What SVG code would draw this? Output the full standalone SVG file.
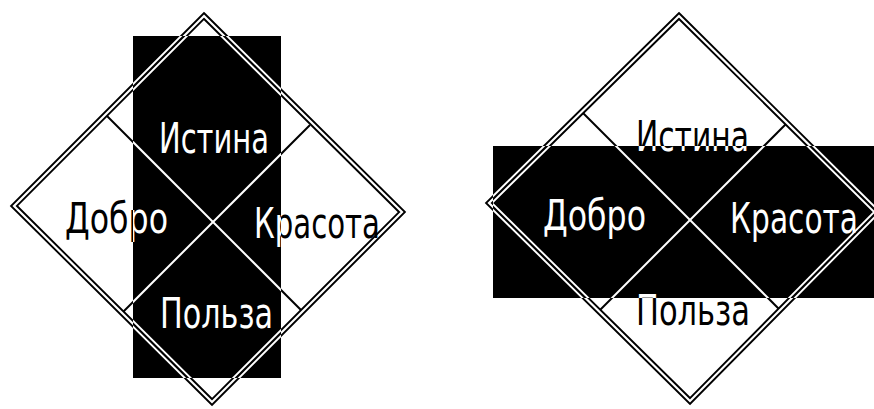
<svg xmlns="http://www.w3.org/2000/svg" xmlns:xlink="http://www.w3.org/1999/xlink" width="874" height="409" viewBox="0 0 874 409">
<style>
.ol-o{fill:none;stroke:var(--fg,#000);stroke-width:6;stroke-linejoin:miter}
.ol-i{fill:none;stroke:var(--bg,#fff);stroke-width:2.2;stroke-linejoin:miter}
.ln{fill:none;stroke:var(--fg,#000);stroke-width:2}
.lbl{font-family:"Liberation Sans Narrow","DejaVu Sans Condensed","Liberation Sans",sans-serif;font-size:42px;fill:var(--fg,#000)}
.blk{fill:#000}
.inv{--fg:#fff;--bg:#000}
</style>
<defs>
<clipPath id="clipL"><rect x="133" y="36" width="148" height="342"/></clipPath>
<clipPath id="clipR"><rect x="493" y="146" width="381" height="152"/></clipPath>
<g id="artL">
  <g id="left-connectors">
    <line class="ln" x1="106" y1="115" x2="302" y2="311"/>
    <line class="ln" x1="310" y1="125" x2="122" y2="313"/>
  </g>
  <g id="left-outline">
    <polygon class="ol-o" points="204,16 402,212 212,402 14,206"/>
    <polygon class="ol-i" points="204,16 402,212 212,402 14,206"/>
  </g>
  <g id="left-istina"><text class="lbl" x="159" y="153" textLength="110" lengthAdjust="spacingAndGlyphs">Истина</text></g>
  <g id="left-dobro"><text class="lbl" x="65" y="233" textLength="103" lengthAdjust="spacingAndGlyphs">Добро</text></g>
  <g id="left-krasota"><text class="lbl" x="254" y="238" textLength="126" lengthAdjust="spacingAndGlyphs">Красота</text></g>
  <g id="left-polza"><text class="lbl" x="160" y="328" textLength="113" lengthAdjust="spacingAndGlyphs">Польза</text></g>
</g>
<g id="artR">
  <g id="right-connectors">
    <line class="ln" x1="582" y1="112" x2="780" y2="310"/>
    <line class="ln" x1="787" y1="123" x2="599" y2="311"/>
  </g>
  <g id="right-outline">
    <polygon class="ol-o" points="679,16 877,212 690,401 489,203"/>
    <polygon class="ol-i" points="679,16 877,212 690,401 489,203"/>
  </g>
  <g id="right-istina"><text class="lbl" x="636" y="151" textLength="113" lengthAdjust="spacingAndGlyphs">Истина</text></g>
  <g id="right-dobro"><text class="lbl" x="543" y="230" textLength="103" lengthAdjust="spacingAndGlyphs">Добро</text></g>
  <g id="right-krasota"><text class="lbl" x="730" y="233" textLength="128" lengthAdjust="spacingAndGlyphs">Красота</text></g>
  <g id="right-polza"><text class="lbl" x="636" y="325" textLength="114" lengthAdjust="spacingAndGlyphs">Польза</text></g>
</g>
</defs>
<rect x="0" y="0" width="874" height="409" fill="#fff"/>
<g id="left-figure">
  <use href="#artL" xlink:href="#artL"/>
  <rect class="blk" x="133" y="36" width="148" height="342"/>
  <g class="inv" clip-path="url(#clipL)"><use href="#artL" xlink:href="#artL"/></g>
</g>
<g id="right-figure">
  <use href="#artR" xlink:href="#artR"/>
  <rect class="blk" x="493" y="146" width="381" height="152"/>
  <g class="inv" clip-path="url(#clipR)"><use href="#artR" xlink:href="#artR"/></g>
</g>
</svg>
